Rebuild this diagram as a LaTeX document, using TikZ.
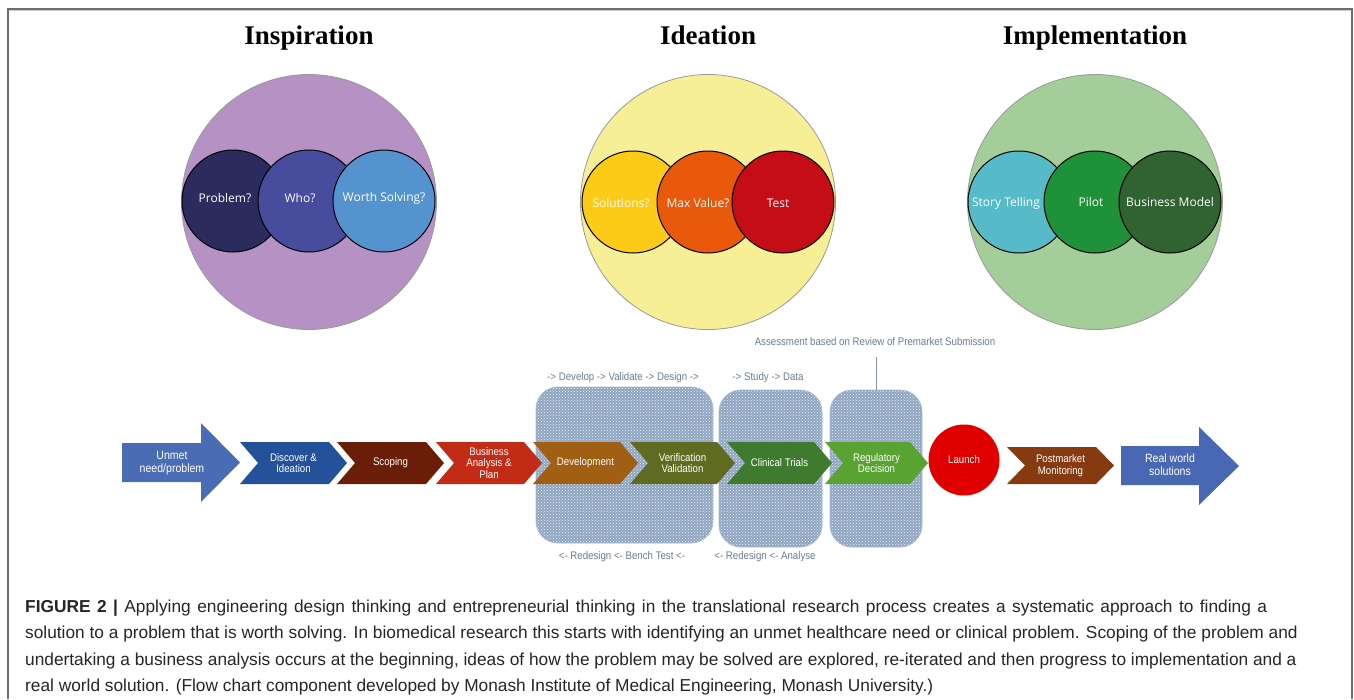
\documentclass[tikz,border=0pt]{standalone}
\usepackage{fontspec}
\setmainfont{Liberation Serif}
\newfontfamily\flowfont[FakeStretch=0.88]{Liberation Sans}
\newfontfamily\capfont{Liberation Sans}
\newfontfamily\circfont{Open Sans}
\usetikzlibrary{patterns}
\definecolor{inspbig}{HTML}{B592C3}
\definecolor{cprob}{HTML}{2C2B5E}
\definecolor{cwho}{HTML}{474C9C}
\definecolor{cworth}{HTML}{5593CF}
\definecolor{ideabig}{HTML}{F7EF96}
\definecolor{csol}{HTML}{FBCB17}
\definecolor{cmaxv}{HTML}{E8590C}
\definecolor{ctest}{HTML}{C50D15}
\definecolor{implbig}{HTML}{A3CE9A}
\definecolor{cstory}{HTML}{57BAC8}
\definecolor{cpilot}{HTML}{1E9139}
\definecolor{cbmodel}{HTML}{306232}
\definecolor{cunmet}{HTML}{4A6CB5}
\definecolor{cdisc}{HTML}{23519A}
\definecolor{cscop}{HTML}{6A1E08}
\definecolor{cbus}{HTML}{C22B16}
\definecolor{cdev}{HTML}{A05F13}
\definecolor{cver}{HTML}{606B22}
\definecolor{cclin}{HTML}{3F7B2E}
\definecolor{creg}{HTML}{58A331}
\definecolor{claunch}{HTML}{E00000}
\definecolor{cpost}{HTML}{853A10}
\definecolor{creal}{HTML}{4868B3}
\definecolor{cbox}{HTML}{8FA5C2}
\definecolor{cboxline}{HTML}{A9BAD0}
\definecolor{clabel}{HTML}{6A7C99}
\definecolor{cframe}{HTML}{6E6E6E}
\tikzset{
  titletxt/.style={font=\fontsize{27}{30}\selectfont\bfseries, text=black, inner sep=0pt, anchor=base},
  bigcirc/.style={circle, minimum size=255pt, inner sep=0pt, draw=gray!80, line width=0.8pt},
  smallcirc/.style={circle, minimum size=102pt, inner sep=0pt, draw=black, line width=1pt},
  circtxt/.style={text=white, font=\circfont\fontsize{12}{14}\selectfont, inner sep=0pt},
  flowtxt/.style={text=white, font=\flowfont\fontsize{11}{11.5}\selectfont, align=center, inner sep=0pt},
  hbox/.style={rounded corners=22pt, draw=cboxline, line width=0.8pt,
    preaction={fill=cbox}, pattern=crosshatch dots, pattern color=white!85!cbox, inner sep=0pt},
  lbltxt/.style={text=clabel, font=\flowfont\fontsize{11}{12}\selectfont, inner sep=0pt},
  captxt/.style={anchor=west, inner sep=0pt, font=\capfont\fontsize{17.3}{19}\selectfont, text=black!85},
}
\newcommand{\chev}[7]{%
  \fill[#6] (#2,#4) -- ({#3-18},#4) -- (#3,{(#4+#5)/2}) -- ({#3-18},#5) -- (#2,#5) -- ({#2+18},{(#4+#5)/2}) -- cycle;
  \node[flowtxt] (#1) at ({(#2+#3)/2},{(#4+#5)/2}) {#7};
}
\begin{document}
\begin{tikzpicture}[x=1pt,y=-1pt]
\useasboundingbox (0,0) rectangle (1354,699);
\fill[white] (0,0) rectangle (1354,699);
% frame
\draw[cframe, line width=2pt] (8,699) -- (8,8.5) -- (1352,8.5) -- (1352,699);
\draw[gray!40, line width=1pt] (9,10.5) -- (1351,10.5);

% titles
\node[titletxt] (tinsp) at (309,44) {Inspiration};
\node[titletxt] (tidea) at (708,44) {Ideation};
\node[titletxt] (timpl) at (1095,44) {Implementation};

% big circles
\node[bigcirc, fill=inspbig] (insp) at (309,202) {};
\node[bigcirc, fill=ideabig] (idea) at (708,202) {};
\node[bigcirc, fill=implbig] (impl) at (1095,202) {};

% small circles
\node[smallcirc, fill=cprob] (prob) at (233,201) {};
\node[smallcirc, fill=cwho] (who) at (309,201) {};
\node[smallcirc, fill=cworth] (worth) at (384,201) {};
\node[circtxt] (probt) at (225,198) {Problem?};
\node[circtxt] (whot) at (300,198) {Who?};
\node[circtxt] (wortht) at (384,198) {Worth Solving?};

\node[smallcirc, fill=csol] (sol) at (633,202) {};
\node[smallcirc, fill=cmaxv] (maxv) at (708,202) {};
\node[smallcirc, fill=ctest] (test) at (783,202) {};
\node[circtxt] (solt) at (621,203) {Solutions?};
\node[circtxt] (maxvt) at (698,203) {Max Value?};
\node[circtxt] (testt) at (778,203) {Test};

\node[smallcirc, fill=cstory] (story) at (1019,202) {};
\node[smallcirc, fill=cpilot] (pilot) at (1095,202) {};
\node[smallcirc, fill=cbmodel] (bmodel) at (1170,202) {};
\node[circtxt] (storyt) at (1006,203) {Story Telling};
\node[circtxt] (pilott) at (1091,202) {Pilot};
\node[circtxt] (bmodelt) at (1170,202) {Business Model};

% hatched boxes
\node[hbox, minimum width=177pt, minimum height=156pt] (box1) at (624.5,465) {};
\node[hbox, minimum width=103pt, minimum height=157pt] (box2) at (770.5,468.5) {};
\node[hbox, minimum width=92pt, minimum height=157pt] (box3) at (876,468.5) {};

% labels
\node[lbltxt] (l1) at (623,378) {-> Develop -> Validate -> Design ->};
\node[lbltxt] (l2) at (768,378) {-> Study -> Data};
\node[lbltxt] (l3) at (622,557) {<- Redesign <- Bench Test <-};
\node[lbltxt] (l4) at (765,557) {<- Redesign <- Analyse};
\node[lbltxt] (assess) at (875,342) {Assessment based on Review of Premarket Submission};
\coordinate (assesslinetop) at (876,357);
\draw[clabel!80, line width=0.8pt] (assesslinetop) -- (box3.north);

% big arrows
\fill[cunmet] (122,443) -- (201,443) -- (201,423) -- (240,462.5) -- (201,502) -- (201,482) -- (122,482) -- cycle;
\node[flowtxt, font=\flowfont\fontsize{12}{13}\selectfont] (unmet) at (172,463) {Unmet\\need/problem};

% chevrons
\chev{disc}{240}{347}{442}{484}{cdisc}{Discover \&\\Ideation}
\chev{scop}{337}{444}{442}{484}{cscop}{Scoping}
\chev{bus}{436}{542}{442}{484}{cbus}{Business\\Analysis \&\\Plan}
\chev{dev}{533}{638}{442}{484}{cdev}{Development}
\chev{ver}{630}{735}{442}{484}{cver}{Verification\\Validation}
\chev{clin}{727}{832}{442}{484}{cclin}{Clinical Trials}
\chev{reg}{825}{928}{442}{484}{creg}{Regulatory\\Decision}

\node[circle, fill=claunch, minimum size=71pt, inner sep=0pt, flowtxt] (launch) at (964,460) {Launch};

\chev{post}{1007}{1114}{447}{484}{cpost}{Postmarket\\Monitoring}

\fill[creal] (1121,446) -- (1199,446) -- (1199,427) -- (1239,466) -- (1199,505) -- (1199,485) -- (1121,485) -- cycle;
\node[flowtxt, font=\flowfont\fontsize{12}{13}\selectfont] (real) at (1170,465) {Real world\\solutions};

% caption
\node[captxt] (cap1) at (25,608) {\makebox[1242pt][s]{\textbf{FIGURE 2 |} Applying engineering design thinking and entrepreneurial thinking in the translational research process creates a systematic approach to finding a}};
\node[captxt] (cap2) at (25,634) {solution to a problem that is worth solving. In biomedical research this starts with identifying an unmet healthcare need or clinical problem. Scoping of the problem and};
\node[captxt] (cap3) at (25,661) {undertaking a business analysis occurs at the beginning, ideas of how the problem may be solved are explored, re-iterated and then progress to implementation and a};
\node[captxt] (cap4) at (25,687) {real world solution. (Flow chart component developed by Monash Institute of Medical Engineering, Monash University.)};
\end{tikzpicture}
\end{document}
